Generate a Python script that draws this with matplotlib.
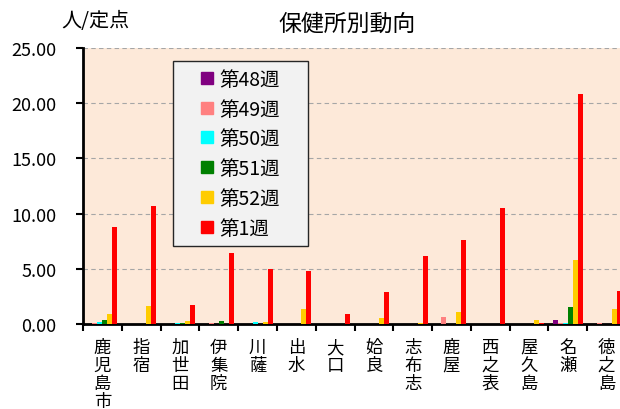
import matplotlib
matplotlib.use('Agg')
import matplotlib.pyplot as plt
from matplotlib.lines import Line2D
import numpy as np

plt.rcParams['font.family'] = ['Noto Sans CJK JP', 'DejaVu Sans']

# 保健所
hokenjo = ['鹿児島市', '指宿', '加世田', '伊集院', '川薩', '出水', '大口',
           '姶良', '志布志', '鹿屋', '西之表', '屋久島', '名瀬', '徳之島']
shuu = ['第48週', '第49週', '第50週', '第51週', '第52週', '第1週']
colores = ['#800080', '#FF8080', '#00FFFF', '#008000', '#FFCC00', '#FF0000']

w48 = [0.0, 0.0, 0.0, 0.0, 0.0, 0.0, 0.02, 0.0, 0.0, 0.0, 0.0, 0.0, 0.35, 0.0]
w49 = [0.1, 0.0, 0.0, 0.05, 0.0, 0.0, 0.0, 0.0, 0.0, 0.65, 0.0, 0.0, 0.1, 0.1]
w50 = [0.2, 0.0, 0.1, 0.0, 0.2, 0.0, 0.0, 0.0, 0.0, 0.0, 0.0, 0.0, 0.1, 0.0]
w51 = [0.4, 0.0, 0.1, 0.25, 0.0, 0.0, 0.0, 0.0, 0.0, 0.0, 0.0, 0.0, 1.55, 0.0]
w52 = [0.95, 1.6, 0.25, 0.0, 0.2, 1.35, 0.0, 0.55, 0.05, 1.05, 0.0, 0.4, 5.8, 1.4]
w1 = [8.8, 10.7, 1.75, 6.4, 5.0, 4.8, 0.95, 2.9, 6.2, 7.6, 10.5, 0.12, 20.8, 3.0]
datos = [w48, w49, w50, w51, w52, w1]

fig = plt.figure(figsize=(6.2, 4.1), dpi=100)
ax = fig.add_axes([83/620, 85/410, 543/620, 276/410])
ax.set_facecolor('#FDE9D9')

x = np.arange(len(hokenjo))
ancho = 0.129
for i in range(len(datos)):
    ax.bar(x + (i - 2.5) * ancho, datos[i], ancho, color=colores[i], zorder=3)

ax.set_xlim(-0.5, len(hokenjo) - 0.5)
ax.set_ylim(0, 25)
ax.set_yticks(np.arange(0, 26, 5))
ax.set_yticklabels(['%.2f' % v for v in np.arange(0, 26, 5)], fontsize=13)
ax.yaxis.grid(True, color='#A6A6A6', linestyle=(0, (4, 3)), linewidth=0.8, zorder=0)

ax.set_xticks(np.arange(len(hokenjo) + 1) - 0.5)
ax.set_xticklabels([])
ax.set_xticks(x, minor=True)
ax.set_xticklabels(['\n'.join(n) for n in hokenjo], minor=True, fontsize=12.5,
                   va='top', linespacing=1.0)
ax.tick_params(axis='x', which='minor', length=0, pad=10)
ax.tick_params(axis='x', which='major', length=5, width=1.5, direction='out')
ax.tick_params(axis='y', length=5, width=1.5, direction='out', pad=14)

for s in ['top', 'right']:
    ax.spines[s].set_visible(False)
ax.spines['left'].set_linewidth(2)
ax.spines['bottom'].set_linewidth(2)

# leyenda con cuadrados
marcas = [Line2D([], [], linestyle='none', marker='s', markersize=8,
                 markerfacecolor=c, markeredgecolor=c) for c in colores]
leg = ax.legend(marcas, shuu, loc='upper left', mode='expand',
                bbox_to_anchor=((173 - 83) / 543, (325 - 243) / 276, 135 / 543, 181 / 276),
                fontsize=14, frameon=True, fancybox=False, handlelength=2.7,
                handletextpad=-0.7, labelspacing=0.45, borderpad=0.4, borderaxespad=0)
leg.get_frame().set_facecolor('#F2F2F2')
leg.get_frame().set_edgecolor('#262626')
leg.get_frame().set_linewidth(1)
leg.get_frame().set_alpha(1)

fig.text(347/620, 1 - 24/410, '保健所別動向', fontsize=16.5, ha='center', va='center')
fig.text(95/620, 1 - 22/410, '人/定点', fontsize=14.5, ha='center', va='center')

fig.savefig('out.png', dpi=100)
